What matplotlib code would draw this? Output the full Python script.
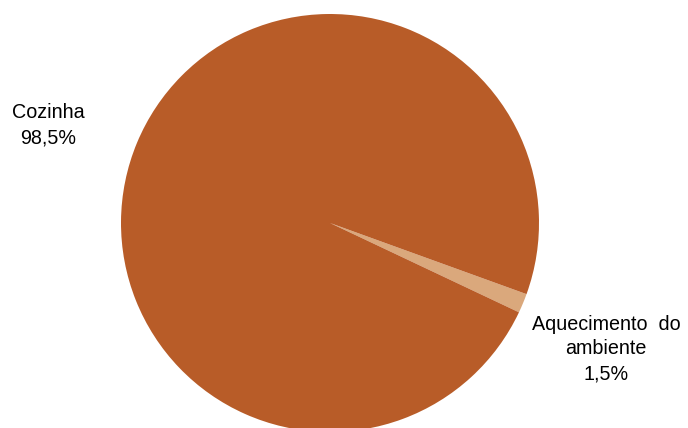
import matplotlib
matplotlib.use('Agg')
import matplotlib.pyplot as plt

plt.rcParams['font.family'] = ['Liberation Sans', 'DejaVu Sans']

# dados
categorias = ['Aquecimento  do\nambiente', 'Cozinha']
valores = [1.5, 98.5]
rotulos = ['1,5%', '98,5%']
cores = ['#DAA87C', '#B85C28']

fig = plt.figure(figsize=(6.88, 4.28), dpi=100)
ax = fig.add_axes([0, 0, 1, 1])

centro = (330, 205)
raio = 209
ax.pie(valores, colors=cores, startangle=-25.3, counterclock=True,
       center=centro, radius=raio, frame=True,
       wedgeprops=dict(linewidth=0))
ax.set_xlim(0, 688)
ax.set_ylim(0, 428)
ax.set_aspect('equal')
ax.axis('off')

# rótulos no estilo Excel
pos_rotulos = [(606, 79), (48, 303)]
for cat, rot, (x, y) in zip(categorias, rotulos, pos_rotulos):
    ax.text(x, y, f"{cat}\n{rot}", ha='center', va='center',
            fontsize=14.2, linespacing=1.4, color='#000000')

fig.savefig('out.png', dpi=100)
